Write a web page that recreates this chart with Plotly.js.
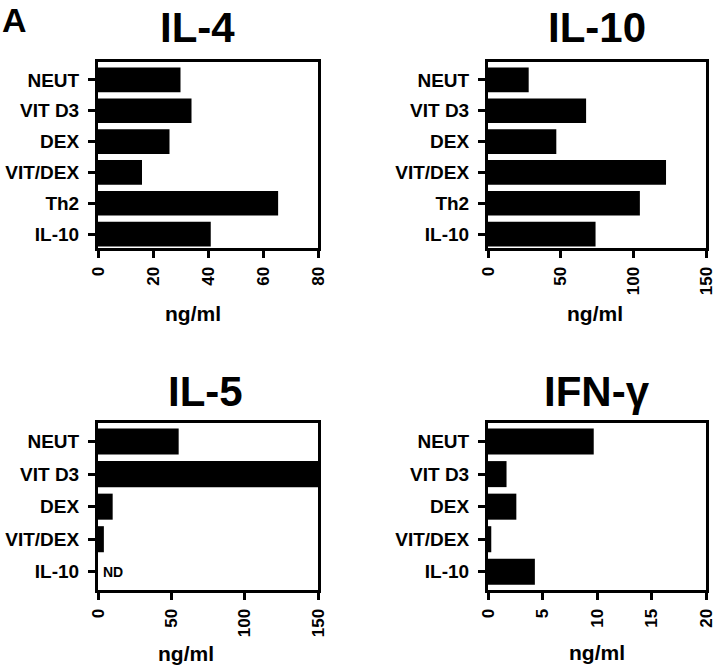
<!DOCTYPE html>
<html>
<head>
<meta charset="utf-8">
<script src="https://cdn.plot.ly/plotly-3.0.1.min.js"></script>
<style>html,body{margin:0;padding:0;background:#fff;}#chart{width:720px;height:669px;}</style>
</head>
<body>
<div id="chart"></div>
<script>
var cats6 = ['NEUT', 'VIT D3', 'DEX', 'VIT/DEX', 'Th2', 'IL-10'];
var cats5 = ['NEUT', 'VIT D3', 'DEX', 'VIT/DEX', 'IL-10'];
var il4Values = [30, 34, 26, 16, 65.5, 41];
var il10Values = [28, 67.5, 47, 122.5, 104.5, 74];
var il5Values = [55, 150, 10, 4, 0];
var ifngValues = [9.7, 1.7, 2.6, 0.3, 4.3];
var panelTitles = ['IL-4', 'IL-10', 'IL-5', 'IFN-γ'];
var xTicks4 = [0, 20, 40, 60, 80];
var xTicks10 = [0, 50, 100, 150];
var xTicks5 = [0, 50, 100, 150];
var xTicksG = [0, 5, 10, 15, 20];
var unitLabel = 'ng/ml';
var ndLabel = 'ND';

var FONT = 'Liberation Sans, Arial, Helvetica, sans-serif';

function bar(x, y, xa, ya) {
  return {type: 'bar', orientation: 'h', x: x, y: y, xaxis: xa, yaxis: ya,
          marker: {color: '#000', line: {width: 0}}, hoverinfo: 'skip', showlegend: false};
}

var data = [
  bar(il4Values, cats6, 'x', 'y'),
  bar(il10Values, cats6, 'x2', 'y2'),
  bar(il5Values, cats5, 'x3', 'y3'),
  bar(ifngValues, cats5, 'x4', 'y4')
];

function xax(domain, anchor, range, ticks) {
  return {domain: domain, anchor: anchor, range: range, tickvals: ticks, ticktext: ticks.map(String),
          tickangle: -90, ticks: 'outside', ticklen: 7, tickwidth: 3, tickcolor: '#000',
          showline: true, linewidth: 3, linecolor: '#000', mirror: true, showgrid: false, zeroline: false,
          ticklabelstandoff: 2,
          tickfont: {family: FONT, size: 17, weight: 'bold', color: '#000'}, fixedrange: true};
}
function yax(domain, anchor, cats, range) {
  return {domain: domain, anchor: anchor, type: 'category', categoryorder: 'array', categoryarray: cats,
          range: range, ticks: 'outside', ticklen: 7, tickwidth: 3, tickcolor: '#000',
          showline: true, linewidth: 3, linecolor: '#000', mirror: true, showgrid: false, zeroline: false,
          ticklabelstandoff: 5,
          tickfont: {family: FONT, size: 19, weight: 'bold', color: '#000'}, fixedrange: true};
}

var W = 720, H = 669;
function px(v) { return v / W; }
function py(v) { return 1 - v / H; }

var topDom = [py(248), py(62)];
var botDom = [py(590), py(423)];
var leftDom = [px(98), px(318)];
var rightDom = [px(488), px(706)];

function ann(text, x, y, size, xanchor) {
  return {text: text, x: px(x), y: py(y), xref: 'paper', yref: 'paper', showarrow: false,
          xanchor: xanchor || 'center', yanchor: 'middle',
          font: {family: FONT, size: size, weight: 'bold', color: '#000'}};
}

var layout = {
  width: W, height: H, margin: {l: 0, r: 0, t: 0, b: 0},
  paper_bgcolor: '#fff', plot_bgcolor: '#fff', bargap: 0.2,
  xaxis: xax(leftDom, 'y', [0, 80], xTicks4),
  yaxis: yax(topDom, 'x', cats6, [5.45, -0.58]),
  xaxis2: xax(rightDom, 'y2', [0, 150], xTicks10),
  yaxis2: yax(topDom, 'x2', cats6, [5.45, -0.58]),
  xaxis3: xax(leftDom, 'y3', [0, 150], xTicks5),
  yaxis3: yax(botDom, 'x3', cats5, [4.56, -0.57]),
  xaxis4: xax(rightDom, 'y4', [0, 20], xTicksG),
  yaxis4: yax(botDom, 'x4', cats5, [4.56, -0.57]),
  annotations: [
    ann('A', 0, 20, 34, 'left'),
    ann(panelTitles[0], 197, 28, 42),
    ann(panelTitles[1], 597, 28, 42),
    ann(panelTitles[2], 205, 392, 42),
    ann(panelTitles[3], 597, 392, 42),
    ann(unitLabel, 193, 313, 21),
    ann(unitLabel, 595, 313, 21),
    ann(unitLabel, 186, 653, 21),
    ann(unitLabel, 597, 652, 21),
    {text: ndLabel, x: 0, y: 'IL-10', xref: 'x3', yref: 'y3', showarrow: false, xanchor: 'left', yanchor: 'middle',
     xshift: 3, font: {family: FONT, size: 14, weight: 'bold', color: '#000'}}
  ]
};

Plotly.newPlot('chart', data, layout, {staticPlot: true, displayModeBar: false});
</script>
</body>
</html>
